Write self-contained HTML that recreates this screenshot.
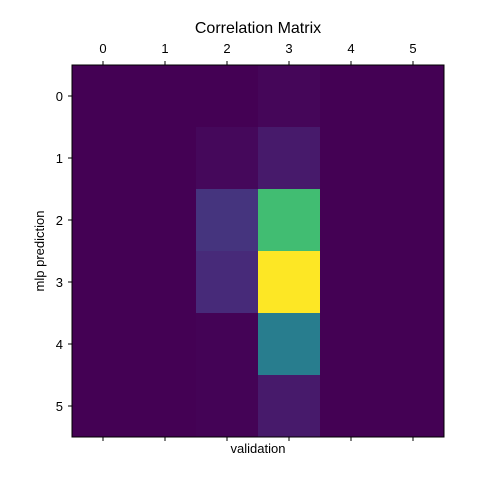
<!DOCTYPE html>
<html><head><meta charset="utf-8"><style>
body{margin:0;background:#fff;}
svg text{font-family:"Liberation Sans","DejaVu Sans",sans-serif;fill:#000;}
</style></head><body>
<svg id="chart" width="480" height="480" viewBox="0 0 480 480">
<rect width="480" height="480" fill="#fff"/>
<g id="cells"></g>
<rect x="72" y="65" width="372" height="372" fill="none" stroke="#000" stroke-width="1"/>
<g id="axes"></g>
<text x="258" y="33" font-size="16" text-anchor="middle">Correlation Matrix</text>
<text x="258" y="453" font-size="13" text-anchor="middle">validation</text>
<text x="44" y="251" font-size="13" text-anchor="middle" transform="rotate(-90 44 251)">mlp prediction</text>
</svg>
<script>
const xLabels = ["0","1","2","3","4","5"];
const yLabels = ["0","1","2","3","4","5"];
const row0 = [0,0,0,0.015,0,0];
const row1 = [0,0,0.02,0.07,0,0];
const row2 = [0,0,0.15,0.69,0,0];
const row3 = [0,0,0.12,1.0,0,0];
const row4 = [0,0,0.005,0.42,0,0];
const row5 = [0,0,0.005,0.07,0,0];
const matrix = [row0,row1,row2,row3,row4,row5];

const vir = [[68,1,84],[72,36,117],[65,68,135],[53,95,141],[42,120,142],[33,145,140],[34,168,132],[68,191,112],[122,209,81],[189,223,38],[253,231,37]];
function viridis(t){t=Math.max(0,Math.min(1,t));const p=t*10,i=Math.min(9,Math.floor(p)),f=p-i;
 const c=vir[i].map((v,k)=>Math.round(v+(vir[i+1][k]-v)*f));return `rgb(${c[0]},${c[1]},${c[2]})`;}
const x0=72,y0=65,size=372,n=6,cw=size/n;
const xPos=i=>x0+i*cw, yPos=i=>y0+i*cw;
const NS="http://www.w3.org/2000/svg";
const cells=document.getElementById('cells'), axes=document.getElementById('axes');
let mn=Infinity,mx=-Infinity;matrix.forEach(r=>r.forEach(v=>{mn=Math.min(mn,v);mx=Math.max(mx,v);}));
matrix.forEach((r,ri)=>r.forEach((v,ci)=>{
 const el=document.createElementNS(NS,'rect');
 el.setAttribute('x',xPos(ci));el.setAttribute('y',yPos(ri));
 el.setAttribute('width',cw+0.5);el.setAttribute('height',cw+0.5);
 el.setAttribute('fill',viridis((v-mn)/(mx-mn)));
 
 
 cells.appendChild(el);
}));
function line(x1,y1,x2,y2){const l=document.createElementNS(NS,'line');l.setAttribute('x1',x1);l.setAttribute('y1',y1);l.setAttribute('x2',x2);l.setAttribute('y2',y2);l.setAttribute('stroke','#000');l.setAttribute('stroke-width','1');
 
 
 axes.appendChild(l);}
function text(x,y,s,anchor){const t=document.createElementNS(NS,'text');t.setAttribute('x',x);t.setAttribute('y',y);t.setAttribute('font-size','13');t.setAttribute('text-anchor',anchor);t.textContent=s;
 
 
 axes.appendChild(t);}
xLabels.forEach((s,i)=>{const cx=xPos(i)+cw/2;line(cx,y0,cx,y0-4);line(cx,y0+size,cx,y0+size+4);text(cx,y0-12,s,'middle');});
yLabels.forEach((s,i)=>{const cy=yPos(i)+cw/2;line(x0,cy,x0-4,cy);text(x0-9,cy+5,s,'end');});
</script>
</body></html>
